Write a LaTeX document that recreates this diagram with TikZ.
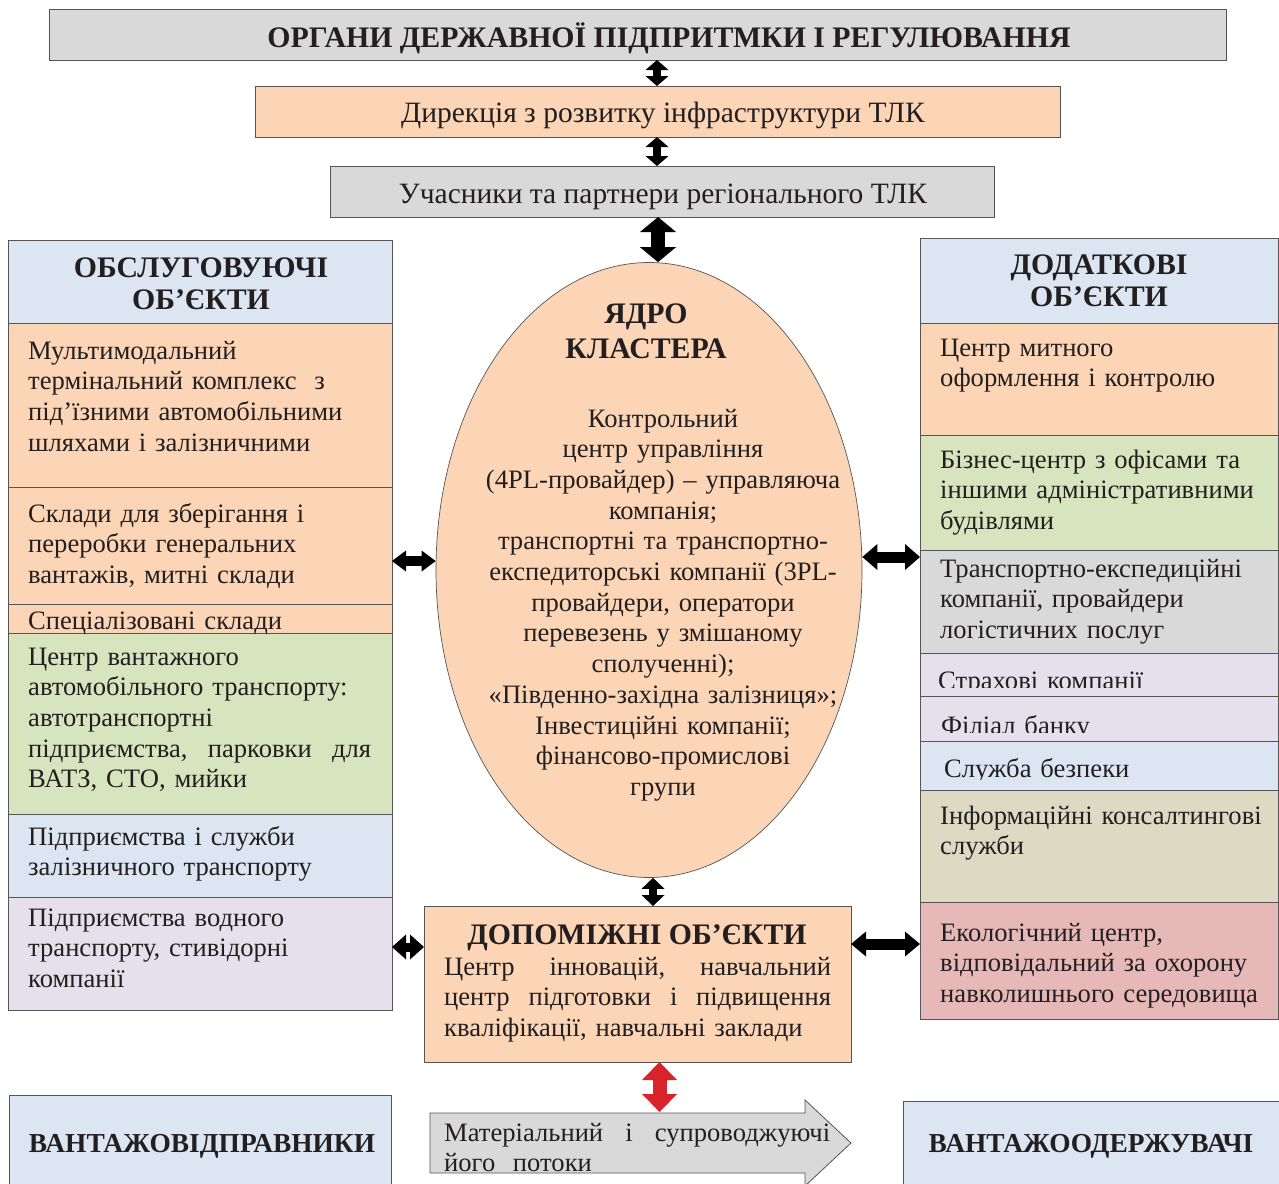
\documentclass[tikz,border=0pt]{standalone}
\usepackage{fontspec}
\setmainfont{Liberation Serif}
\usetikzlibrary{arrows.meta,shapes.geometric,calc}
\definecolor{cgray}{HTML}{D9D9D9}
\definecolor{cpeach}{HTML}{FBD5B5}
\definecolor{cblue}{HTML}{DCE6F2}
\definecolor{cgreen}{HTML}{D7E4BD}
\definecolor{clav}{HTML}{E6E0EC}
\definecolor{ctan}{HTML}{DDD9C3}
\definecolor{crose}{HTML}{E6B9B8}
\definecolor{cline}{HTML}{555555}
\definecolor{cred}{HTML}{D9232A}
\definecolor{ctext}{HTML}{231F20}
\newcommand\bodyf{\fontsize{26.6}{30.7}\selectfont}
\newcommand\topf{\fontsize{29.5}{32}\selectfont}
\newcommand\headf{\fontsize{29.8}{32}\selectfont\bfseries}
\newcommand\mkbox[6]{\node[box,fill=#2,minimum width={#5-#3},minimum height={#6-#4}] (#1) at ({(#3+#5)/2},{(#4+#6)/2}) {};}
\newcommand\jl[2]{\leavevmode\hbox to #1pt{#2}}
\begin{document}
\begin{tikzpicture}[x=1pt,y=-1pt,
  box/.style={draw=cline,line width=0.8pt,inner sep=0pt,outer sep=0pt},
  tx/.style={anchor=base west,inner sep=0pt,align=left,font=\bodyf,text=ctext},
  ctx/.style={anchor=base,inner sep=0pt,align=center,font=\bodyf,text=ctext},
  htx/.style={anchor=base,inner sep=0pt,align=center,font=\headf,text=ctext},
  dblarrow/.style n args={3}{draw=black,line width=#1,
     {Triangle[length=#2,width=#3,line width=0pt]}-{Triangle[length=#2,width=#3,line width=0pt]}},
]
\clip (0,0) rectangle (1279,1183);
% top boxes
\mkbox{top}{cgray}{49}{9}{1226}{60}
\mkbox{dir}{cpeach}{255}{86}{1060}{137}
\mkbox{part}{cgray}{330}{166}{994}{217}
\node[htx] at (669,47) {ОРГАНИ ДЕРЖАВНОЇ ПІДПРИТМКИ І РЕГУЛЮВАННЯ};
\node[ctx,font=\topf] at (663,122) {Дирекція з розвитку інфраструктури ТЛК};
\node[ctx,font=\topf] at (663,203) {Учасники та партнери регіонального ТЛК};
% core ellipse
\node[draw=cline,fill=cpeach,ellipse,line width=0.7pt,minimum width=426,minimum height=615,inner sep=0pt] (core) at (649,570) {};
\node[htx,text width=300] at (646,323) {ЯДРО\\[3pt] КЛАСТЕРА};
\node[ctx,text width=420] at (663,427) {Контрольний\\ центр управління\\ (4PL-провайдер) – управляюча\\ компанія;\\ транспортні та транспортно-\\ експедиторські компанії (3PL-\\ провайдери, оператори\\ перевезень у змішаному\\ сполученні);\\ «Південно-західна залізниця»;\\ Інвестиційні компанії;\\ фінансово-промислові\\ групи};
% left column
\mkbox{Lh}{cblue}{8}{240}{392}{323}
\mkbox{L1}{cpeach}{8}{323}{392}{487}
\mkbox{L2}{cpeach}{8}{487}{392}{604}
\mkbox{L3}{cpeach}{8}{604}{392}{633}
\mkbox{L4}{cgreen}{8}{633}{392}{814}
\mkbox{L5}{cblue}{8}{814}{392}{897}
\mkbox{L6}{clav}{8}{897}{392}{1010}
\node[htx,text width=370] at (201,277) {ОБСЛУГОВУЮЧІ\\ ОБ’ЄКТИ};
\node[tx,text width=346] at (28,359) {Мультимодальний\\ термінальний комплекс\ \ з\\ під’їзними автомобільними\\ шляхами і залізничними};
\node[tx,text width=346] at (28,522) {Склади для зберігання і\\ переробки генеральних\\ вантажів, митні склади};
\node[tx,text width=346] at (28,629) {Спеціалізовані склади};
\node[tx,text width=346] at (28,665) {Центр вантажного\\ автомобільного транспорту:\\ автотранспортні\\ \jl{343}{підприємства,\hfill парковки\hfill для}\\ ВАТЗ, СТО, мийки};
\node[tx,text width=346] at (28,845) {Підприємства і служби\\ залізничного транспорту};
\node[tx,text width=346] at (28,926) {Підприємства водного\\ транспорту, стивідорні\\ компанії};
% right column
\mkbox{Rh}{cblue}{920}{238}{1278}{323}
\mkbox{R1}{cpeach}{920}{323}{1278}{435}
\mkbox{R2}{cgreen}{920}{435}{1278}{550}
\mkbox{R3}{cgray}{920}{550}{1278}{653}
\mkbox{R4}{clav}{920}{653}{1278}{696}
\mkbox{R5}{clav}{920}{696}{1278}{741}
\mkbox{R6}{cblue}{920}{741}{1278}{790}
\mkbox{R7}{ctan}{920}{790}{1278}{902}
\mkbox{R8}{crose}{920}{902}{1278}{1019}
\node[htx,text width=340] at (1099,274) {ДОДАТКОВІ\\ ОБ’ЄКТИ};
\node[tx,text width=335] at (940,356) {Центр митного\\ оформлення і контролю};
\node[tx,text width=335] at (940,468) {Бізнес-центр з офісами та\\ іншими адміністративними\\ будівлями};
\node[tx,text width=335] at (940,577) {Транспортно-експедиційні\\ компанії, провайдери\\ логістичних послуг};
\begin{scope}
\clip (920,653) rectangle (1278,687);
\node[tx,text width=335] at (938,689) {Страхові компанії};
\end{scope}
\begin{scope}
\clip (920,696) rectangle (1278,732);
\node[tx,text width=335] at (941,734) {Філіал банку};
\end{scope}
\begin{scope}
\clip (920,741) rectangle (1278,779);
\node[tx,text width=335] at (944,777) {Служба безпеки};
\end{scope}
\node[tx,text width=335] at (940,824) {Інформаційні консалтингові\\ служби};
\node[tx,text width=335] at (940,941) {Екологічний центр,\\ відповідальний за охорону\\ навколишнього середовища};
% auxiliary box
\mkbox{aux}{cpeach}{424}{906}{851}{1062}
\node[htx] at (637,944) {ДОПОМІЖНІ ОБ’ЄКТИ};
\node[tx,text width=390] at (444,975) {\jl{387}{Центр\hfill інновацій,\hfill навчальний}\\ \jl{387}{центр\hfill підготовки\hfill і\hfill підвищення}\\ кваліфікації, навчальні заклади};
% bottom row
\mkbox{snd}{cblue}{9}{1095}{391}{1192}
\mkbox{rcv}{cblue}{903}{1101}{1279}{1192}
\node[htx,font=\fontsize{27.4}{30}\selectfont\bfseries] at (202,1152) {ВАНТАЖОВІДПРАВНИКИ};
\node[htx,font=\fontsize{27.4}{30}\selectfont\bfseries] at (1091,1152) {ВАНТАЖООДЕРЖУВАЧІ};
\draw[cline,fill=cgray,line width=0.8pt] (430,1113) -- (805,1113) -- (805,1100) -- (851,1143) -- (805,1186) -- (805,1173) -- (430,1173) -- cycle;
\begin{scope}
\clip (430,1113) -- (805,1113) -- (805,1100) -- (851,1143) -- (805,1186) -- (805,1172) -- (430,1172) -- cycle;
\node[tx,text width=390] at (444,1141) {\jl{386}{Матеріальний\hfill і\hfill супроводжуючі}\\ його\ \ потоки};
\end{scope}
% connectors
\coordinate (ax) at (657,0);
\coordinate (ax3) at (658,0);
\coordinate (ax4) at (653,0);
\coordinate (axr) at (659.5,1112);
\coordinate (hl) at (0,561);
\coordinate (hr) at (0,557);
\coordinate (hll) at (0,947);
\coordinate (hlr) at (0,944);
\draw[dblarrow={8pt}{10pt}{23pt}] (top.south -| ax) -- (dir.north -| ax);
\draw[dblarrow={8pt}{10pt}{23pt}] (dir.south -| ax) -- (part.north -| ax);
\draw[dblarrow={14pt}{15pt}{36pt}] (part.south -| ax3) -- (ax3 |- core.north);
\draw[dblarrow={8pt}{11pt}{23pt}] (ax4 |- core.south) -- (aux.north -| ax4);
\draw[dblarrow={10pt}{14pt}{21pt}] (L2.east |- hl) -- (core.west |- hl);
\draw[dblarrow={11pt}{15pt}{26pt}] (core.east |- hr) -- (R3.west |- hr);
\draw[dblarrow={9pt}{14pt}{25pt}] (L6.east |- hll) -- (aux.west |- hll);
\draw[dblarrow={11pt}{15pt}{25pt}] (aux.east |- hlr) -- (R8.west |- hlr);
\draw[dblarrow={14pt}{18pt}{35pt},draw=cred] (aux.south -| axr) -- (axr);
\end{tikzpicture}
\end{document}
